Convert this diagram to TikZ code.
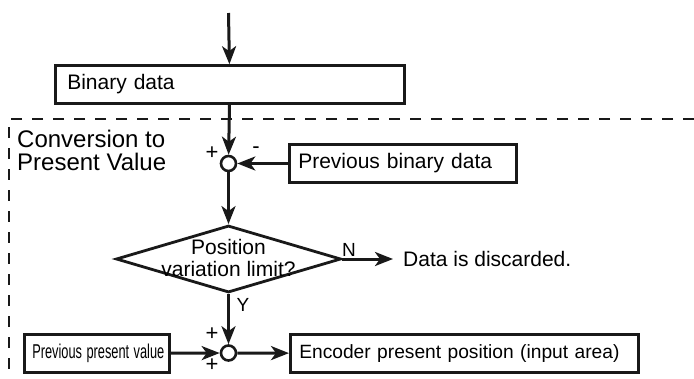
\documentclass[tikz,border=0pt]{standalone}
\usepackage{fontspec}
\setmainfont{Liberation Sans}
\usetikzlibrary{positioning,arrows.meta,shapes.geometric}

\begin{document}
\begin{tikzpicture}[
        x=1pt,y=-1pt,
        font=\fontsize{21}{23}\selectfont,
        block/.style={rectangle,draw=black!90,line width=2.6pt,minimum height=38pt,inner xsep=9pt,align=left,anchor=west},
        sum/.style={circle,draw=black!90,line width=2.6pt,minimum size=15pt,inner sep=0pt},
        decision/.style={diamond,draw=black!90,line width=2.8pt,minimum width=225pt,minimum height=67pt,inner sep=0pt},
        sign/.style={inner sep=0pt,font=\fontsize{22}{22}\selectfont},
        tag/.style={inner sep=0pt,font=\fontsize{19}{19}\selectfont},
        arrow/.style={-{Stealth[length=18pt,width=14pt,inset=5pt]},line width=3pt,black!90},
      ]
      \useasboundingbox (0,0) rectangle (694,378);

      % frame of the conversion part
      \draw[black!90,line width=2.8pt,dash pattern=on 11pt off 10pt] (694,119) -- (9,119) -- (9,378);
      \node[anchor=north west,align=left,inner sep=0pt,font=\fontsize{24}{23}\selectfont] (conv) at (17,130) {Conversion to\\Present Value};

      \coordinate (in) at (228.5,13);
      \node[block,text width=325pt,inner xsep=12pt] (bin) at (54,84.5) {Binary data};
      \node[sum] (sum1) at (228.5,163.5) {};
      \node[block,text width=209pt] (pbin) at (288,163.5) {Previous binary data};
      \node[decision] (lim) at (228.5,259) {};
      \node[align=center,inner sep=0pt,font=\fontsize{21}{22}\selectfont] (limtext) at (228.5,258) {Position\\variation limit?};
      \coordinate (nend) at (393,259);
      \node[anchor=west,inner sep=0pt] (disc) [right=10pt of nend] {Data is discarded.};
      \node[sum] (sum2) at (228.5,353) {};
      \node[block,text width=129pt,inner xsep=8pt,align=center] (pres) at (23,353.5) {\scalebox{0.64}[1]{\fontsize{20}{20}\selectfont Previous present value}};
      \node[block,text width=330pt,font=\fontsize{19.2}{21}\selectfont] (enc) at (289,353.5) {Encoder present position (input area)};

      % signs and branch labels
      \node[sign] (p1) at (212,153) {+};
      \node[sign] (m1) at (256,150) {-};
      \node[sign] (p2) at (212,334) {+};
      \node[sign] (p3) at (212,365) {+};
      \node[tag] (ny) at (349,249.5) {N};
      \node[tag] (yy) at (243,305) {Y};

      \draw[arrow] (in) -- (bin);
      \draw[arrow] (bin) -- (sum1);
      \draw[arrow] (pbin) -- (sum1);
      \draw[arrow] (sum1) -- (lim);
      \draw[arrow] (lim.east) -- (nend);
      \draw[arrow] (lim) -- (sum2);
      \draw[arrow] (pres) -- (sum2);
      \draw[arrow] (sum2) -- (enc);
    \end{tikzpicture}
\end{document}
